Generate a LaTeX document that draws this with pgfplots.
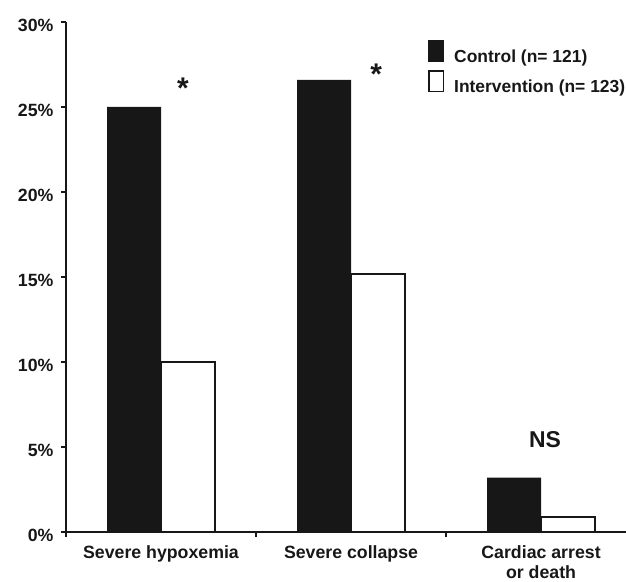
\documentclass[border=0pt]{standalone}
\usepackage{fontspec}
\setmainfont{Liberation Sans}
\usepackage{pgfplots}
\pgfplotsset{compat=1.18}
\definecolor{barfill}{HTML}{171717}
\begin{document}
\begin{tikzpicture}
\useasboundingbox (0,0) rectangle (626bp,582bp);
\begin{axis}[
  at={(66bp,50bp)}, anchor=south west,
  width=560bp, height=510bp, scale only axis,
  xmin=-0.5, xmax=2.447, ymin=0, ymax=30,
  axis x line=bottom, axis y line=left,
  axis line style={-, line width=2.2bp, color=barfill},
  ybar=0pt, bar width=54bp,
  ytick={0,5,10,15,20,25,30},
  yticklabels={0\%,5\%,10\%,15\%,20\%,25\%,30\%},
  xtick={0,1,2},
  xticklabels={Severe hypoxemia, Severe collapse, Cardiac arrest\\or death},
  minor xtick={-0.5,0.5,1.5},
  tick align=outside, major tick length=5bp, minor tick length=5bp,
  tick style={line width=2bp, color=barfill},
  every major x tick/.append style={draw=none},
  ticklabel style={font=\fontsize{17.8}{20}\selectfont\bfseries, text=barfill},
  xticklabel style={align=center, yshift=-5bp},
  yticklabel style={xshift=-4bp, yshift=-3bp},
  clip=false,
  legend style={draw=none, fill=none, at={(0.6464,0.9647)}, anchor=north west,
    inner sep=0pt, row sep=6bp, font=\fontsize{17.5}{20}\selectfont\bfseries,
    nodes={inner sep=0pt, text=barfill}},
  legend cell align=left,
]
\addplot[ybar, fill=barfill, draw=none,
  legend image code/.code={\fill[barfill] (0bp,-5bp) rectangle (16bp,17bp); \path (23bp,0bp);}]
  coordinates {(0,25.0) (1,26.6) (2,3.2)};
\addplot[ybar, fill=white, draw=barfill, line width=2bp,
  legend image code/.code={\draw[barfill, line width=1.5bp, fill=white] (0.75bp,-4.25bp) rectangle (15.25bp,16.25bp); \path (25bp,0bp);}]
  coordinates {(0,10.0) (1,15.2) (2,0.88)};
\legend{Control (n= 121), Intervention (n= 123)}
\node[font=\fontsize{30}{30}\selectfont\bfseries, text=barfill, anchor=base] at (axis cs:0.116,25.5) {*};
\node[font=\fontsize{30}{30}\selectfont\bfseries, text=barfill, anchor=base] at (axis cs:1.132,26.3) {*};
\node[font=\fontsize{23}{23}\selectfont\bfseries, text=barfill, anchor=base] at (axis cs:2.021,4.97) {NS};
\end{axis}
\end{tikzpicture}
\end{document}
